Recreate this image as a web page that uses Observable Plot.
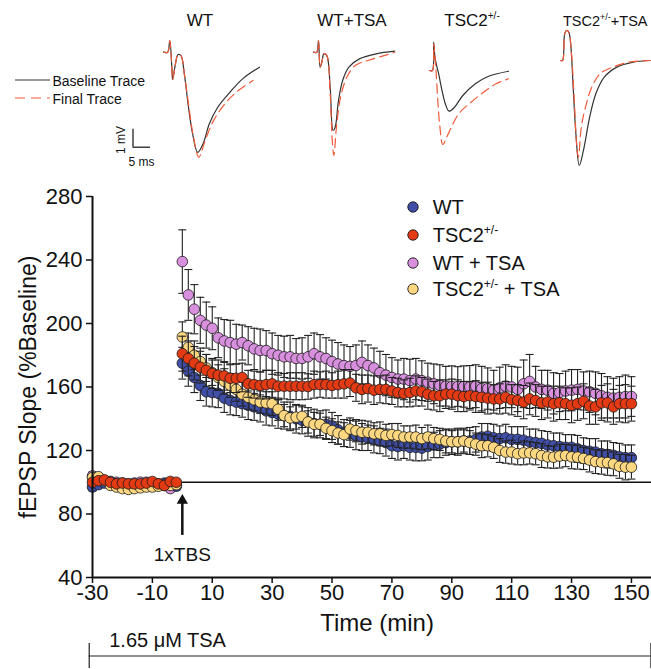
<!DOCTYPE html>
<html><head><meta charset="utf-8">
<script src="https://cdn.jsdelivr.net/npm/d3@7"></script>
<script src="https://cdn.jsdelivr.net/npm/@observablehq/plot@0.6"></script>
<style>
html,body{margin:0;padding:0;background:#fff;}
#page{position:relative;width:651px;height:669px;overflow:hidden;font-family:"Liberation Sans",Arial,sans-serif;color:#111;}
.abs{position:absolute;white-space:pre;line-height:normal;}
.abs span.t{display:inline-block;}
svg{display:block;}
</style></head><body><div id="page"></div>
<script>
// ---------------- DATA ----------------
const seriesNames = ["WT", "TSC2+/-", "WT + TSA", "TSC2+/- + TSA"];
const seriesColors = ["#3f4ea6", "#e33a14", "#d78fde", "#fdd880"];
const drawOrder = [2, 0, 3, 1];

const baselineTimes = [-30,-28,-26,-24,-22,-20,-18,-16,-14,-12,-10,-8,-6,-4,-2];
const postTimes = d3.range(0, 151, 2);
const xTicks = [-30,-10,10,30,50,70,90,110,130,150];
const yTicks = [40,80,120,160,200,240,280];
const xMax = 156.7;

// WT
const wtBase = [97,98.5,99.5,100,99,98.5,98.5,98,98.5,98.5,99,98.5,99,98.5,97.5];
const wtPost = [
 175,170,166,161,157,156.5,156,153,151.5,150.5,
 149.5,148.5,147.5,146.5,145,144,143,142,141.5,140,
 139,138,137,136.5,136.5,135.5,133,131,130.5,129.5,
 128.5,128,127,126,125,123,122.5,123,122,122,
 121.5,122.5,123.5,124,125,125.5,125.5,126,126,127,
 128.5,129,128,127.5,128,127,127,126.5,125.5,125,
 124.5,123.5,123,122.5,122,122,121,120,119.5,119,
 118,117.5,117,116,115.5,115.5];
const wtBaseSem = [2.5,2,2,2,2,2,2,2,2,2,2,2,2,2,2.5];
const wtPostSem = [
 10,9.5,9.5,9.5,9,9,9,9,9,8.5,
 8.5,9,8.5,8.5,9,8.5,9,8.5,9,9,
 8.5,9,9,8.5,9,8.5,9,8.5,8.5,9,
 8.5,8,8.5,8,8.5,8,8.5,8,8,8.5,
 8,8.5,8,8.5,8,8,8.5,8,8.5,8,
 8.5,8,8.5,8,8.5,8,8,8.5,8,8.5,
 8,8.5,8,8.5,8,8,8.5,8,8,8.5,
 8,8.5,8,8.5,8,8];

// TSC2+/-
const tscBase = [100,101,101.5,100,99,99.5,99,99,99,99.5,100.5,99,98,100.5,100];
const tscPost = [
 181,178,175,172.5,170.5,168.5,167.5,167,165.5,165.5,
 166,162,161.5,161,161.5,162,160.5,160.5,160.5,160.5,
 160.5,160.3,161.5,161.5,161.5,161,161.5,162,162.5,159.5,
 158.5,159,158,158.5,158.5,157.5,156.5,156,156.5,157.5,
 157,155.5,154.5,154.5,155.5,155.5,154.5,154,154.5,154,
 153.5,153,152.5,152.5,153.5,152,151.5,150.5,152.5,151.5,
 150,150.5,149.5,150,149.5,148.5,149.5,151,148,147.5,
 150,150,147.5,149.5,149.5,149.5];
const tscBaseSem = [2,2,2,2,2,2,2,2,2,2,2,2,2,2,2];
const tscPostSem = [
 11,11,10.5,10,10,9.5,9.5,9,9,9,
 9,8.5,8.5,8.5,9,8.5,8.5,8,8.5,8.5,
 8.5,8,8.5,8,8.5,8,8.5,9,8.5,8.5,
 9,8.5,9,8.5,9,8.5,9,8.5,9,9.5,
 9,9.5,9,10,9,9.5,10,9.5,9,10,
 9.5,10,9,9.5,10,9.5,10,10.5,10,10,
 10.5,10,11,10.5,10,11,10.5,11,11.5,11,
 11,12,11,11.5,12,11];

// WT + TSA
const wtTsaBase = [104,103,101,100.5,100,99.5,99,99.5,100,100,99.5,99,99.5,96,98];
const wtTsaPost = [
 239,218,209,202,199,197,191,189,188,187,
 188,186,184,183,183,181,180,179,179,178,
 178,179,181,179,178,176,174.5,173.5,173,173.5,
 175.5,173.5,172,169,167.5,166,165,165,164,165,
 164,163,162,161,160.5,160.3,160.3,160.3,160,160.5,
 159,159,158,159.5,160.5,160,158.5,162,163.5,160,
 158.5,158,156,156.5,157.5,158,158.5,157.5,157,156,
 154.5,153.5,153,153.5,154,154];
const wtTsaBaseSem = [2.5,2,2,2,2,2,2,2,2,2,2,2,2,2,2.5];
const wtTsaPostSem = [
 20,16,15.5,14.5,14.5,13.5,12.5,13.5,14,12.5,
 11,12,13,13.5,12.5,13,12.5,13,13.5,12.5,
 13,13.5,13,14,13,13.5,13.5,13,12.5,13,
 13.5,13,12.5,13.5,13,12.5,12,13,13.5,13,
 12.5,12,12.5,13,12.5,13,12.5,13,13.5,13.5,
 14,13,12.5,13,13.5,13,14,15,17,13,
 12,12.5,13,12,12.5,13,12.5,12,13,13.5,
 14,13,12.5,13,13.5,12.5];

// TSC2+/- + TSA
const tscTsaBase = [103,103.5,101,98,97,96,95.5,96,96.5,97,97,97.5,98,98,98.5];
const tscTsaPost = [
 191.5,185,180,176,172,169,166,163.5,161,158.5,
 155.5,153.5,152,150.5,150,149.5,146,142,140.5,141,
 141.5,138,136.5,136.5,134,132.5,131,130,133.5,132.5,
 131.5,131.5,130.5,130.5,129.5,130,129.5,128.5,128.5,128.5,
 127.5,128.5,127.5,127,126,125.5,125.5,126,125,124,
 123,123,122,120,119,119,118,118.5,118.5,118,
 116.8,116,115.8,116.5,116.8,116,115.8,115,114,113,
 112.6,112.4,111.6,110,109.5,109.5];
const tscTsaBaseSem = [2,2,2,2,2,2,2,2,2,2,2,2,2,2,2];
const tscTsaPostSem = [
 9.5,9,9,8.5,8.5,8,8,8,7.5,7.5,
 7.5,7.5,7,7,7,7.5,7,7,7,7.5,
 7,7,7.5,7,7,7.5,7,7.5,7,7,
 7.5,7,7,7.5,7,7,7.5,7,7,7.5,
 7,7.5,7,7,7.5,7,7.5,7,7.5,7,
 7.5,7,7,7.5,7,7.5,7,7.5,7,7,
 7.5,7,7,7.5,7,7.5,7.5,7,7.5,7.5,
 7.5,8,7.5,7.5,8,7.5];

const baseValues = [wtBase, tscBase, wtTsaBase, tscTsaBase];
const postValues = [wtPost, tscPost, wtTsaPost, tscTsaPost];
const baseSems = [wtBaseSem, tscBaseSem, wtTsaBaseSem, tscTsaBaseSem];
const postSems = [wtPostSem, tscPostSem, wtTsaPostSem, tscTsaPostSem];

// annotations
const tbsMarker = [{t: 0, from: 66.5, to: 88.5, label: "1xTBS", labelY: 54}];
const baselineRef = [{y: 100, from: 0, to: xMax}];
const treatment = [{label: "1.65 μM TSA", start: -31.1, end: 156.5}];
const yLabel = "fEPSP Slope (%Baseline)";
const xLabel = "Time (min)";

// example traces [ms, mV]
const traceTitles = ["WT", "WT+TSA", "TSC2+/-", "TSC2+/-+TSA"];
const traceBaseline = [
 [[0,0],[1.19,0],[1.79,0.65],[2.38,-0.83],[2.62,-1.52],[3.33,-0.74],[4.17,-0.13],[5.0,-0.19],[5.95,-1.2],[7.14,-3.06],[8.33,-4.54],[9.76,-5.56],[11.3,-5.09],[13.1,-3.98],[15.5,-3.06],[19.0,-2.22],[22.6,-1.48],[27.4,-0.83]],
 [[0,0],[0.95,0],[1.43,0.65],[1.9,-0.83],[2.38,-0.56],[2.98,-0.09],[3.81,-0.19],[4.76,-1.94],[5.6,-4.35],[6.19,-4.17],[7.14,-2.69],[8.33,-1.57],[10.1,-0.83],[13.1,-0.37],[17.9,-0.09],[23.2,0.06]],
 [[0,0],[0.83,0],[1.19,1.57],[1.55,0.74],[2.02,0.28],[2.62,-0.19],[3.57,-1.11],[4.52,-1.85],[5.6,-2.26],[7.14,-2.04],[9.52,-1.39],[13.1,-0.74],[16.7,-0.33],[22.6,-0.04]],
 [[0,0],[0.6,0],[1.19,1.48],[1.79,1.67],[2.38,1.57],[2.98,0.74],[3.57,-1.3],[4.4,-4.07],[5.36,-5.83],[6.55,-5.0],[8.33,-3.15],[10.1,-1.85],[12.5,-0.93],[16.1,-0.37],[20.8,-0.09],[25.6,0]]
];
const traceFinal = [
 [[0,0],[1.19,0],[1.79,0.65],[2.38,-0.83],[2.62,-1.52],[3.33,-0.74],[4.17,-0.13],[5.0,-0.19],[5.95,-1.2],[7.4,-3.24],[8.57,-4.72],[10.1,-5.83],[11.9,-4.91],[14.3,-3.8],[17.9,-2.78],[21.4,-2.13],[25.6,-1.57]],
 [[0,0],[0.95,0],[1.43,0.65],[1.9,-0.83],[2.38,-0.56],[2.98,-0.09],[3.81,-0.19],[4.76,-2.31],[5.36,-4.91],[5.83,-5.74],[6.55,-4.17],[7.74,-2.5],[9.52,-1.39],[11.9,-0.74],[15.5,-0.46],[20.2,-0.19],[23.2,0]],
 [[0,0],[0.83,0],[1.19,1.48],[1.79,0.19],[2.38,-1.67],[2.98,-3.15],[3.81,-4.11],[5.36,-3.52],[8.33,-2.41],[11.9,-1.76],[15.5,-1.2],[19.0,-0.74],[22.6,-0.46]],
 [[0,0],[0.6,0],[1.19,1.48],[1.79,1.67],[2.38,1.57],[3.21,0.19],[3.93,-2.22],[4.76,-5.0],[5.12,-5.37],[5.95,-3.7],[7.14,-2.59],[8.93,-1.48],[11.3,-0.74],[14.9,-0.37],[19.6,-0.09],[25.6,0]]
];
const traceLegend = [{label: "Baseline Trace", color: "#333", dash: null}, {label: "Final Trace", color: "#f05a3a", dash: "10,6"}];
const scaleBar = [{ms: 5, mV: 1}];
const scaleLabels = ["1 mV", "5 ms"];

// ---------------- LAYOUT HELPERS ----------------
const page = document.getElementById("page");
const FONT = '"Liberation Sans", Arial, sans-serif';
function place(el, left, top) {
  const d = document.createElement("div");
  d.className = "abs"; d.style.left = left + "px"; d.style.top = top + "px";
  d.appendChild(el); page.appendChild(d); return d;
}
function esc(s) { return s.replace(/&/g,"&amp;").replace(/</g,"&lt;"); }
function rich(name, supPx) {
  return name.split("+/-").map(esc).join(`<span style="font-size:${supPx}px;position:relative;top:-0.65em;">+/-</span>`);
}
function htmlText(html, left, top, size, extra) {
  const s = document.createElement("span");
  s.className = "t";
  s.innerHTML = html; s.style.fontSize = size + "px"; s.style.fontFamily = FONT;
  if (extra) Object.assign(s.style, extra);
  return place(s, left, top);
}

// ---------------- MAIN CHART ----------------
const rows = [];
seriesNames.forEach((name, i) => {
  const times = baselineTimes.concat(postTimes);
  const vals = baseValues[i].concat(postValues[i]);
  const sems = baseSems[i].concat(postSems[i]);
  times.forEach((t, j) => rows.push({series: name, idx: i, t, v: vals[j], lo: vals[j] - sems[j], hi: vals[j] + sems[j]}));
});
const capSymbol = {draw(ctx, size) { const w = 4; ctx.moveTo(-w, 0); ctx.lineTo(w, 0); }};

const seriesMarks = drawOrder.flatMap(i => {
  const d = rows.filter(r => r.idx === i);
  return [
    Plot.ruleX(d, {x: "t", y1: "lo", y2: "hi", stroke: "#222", strokeWidth: 1.1}),
    Plot.dot(d, {x: "t", y: "hi", symbol: capSymbol, r: 4, fill: "none", stroke: "#222", strokeWidth: 1.1}),
    Plot.dot(d, {x: "t", y: "lo", symbol: capSymbol, r: 4, fill: "none", stroke: "#222", strokeWidth: 1.1}),
    Plot.dot(d, {x: "t", y: "v", r: 5.3, fill: seriesColors[i], stroke: "#1a1a1a", strokeWidth: 0.8})
  ];
});

const main = Plot.plot({
  width: 651, height: 462, marginTop: 26, marginBottom: 55, marginLeft: 92, marginRight: 0,
  style: {fontFamily: FONT, fontSize: "22px", color: "#111", background: "transparent", overflow: "visible"},
  x: {domain: [-30, xMax]},
  y: {domain: [yTicks[0], yTicks[yTicks.length - 1]]},
  marks: [
    Plot.ruleY(baselineRef, {y: "y", x1: "from", x2: "to", stroke: "#111", strokeWidth: 1.5}),
    ...seriesMarks,
    Plot.ruleX(tbsMarker, {x: "t", y1: "from", y2: "to", stroke: "#111", strokeWidth: 2.5}),
    Plot.dot(tbsMarker, {x: "t", y: "to", symbol: "triangle", r: 4.2, fill: "#111", stroke: "none"}),
    Plot.text(tbsMarker, {x: "t", y: "labelY", text: "label", fontSize: 19, lineAnchor: "middle", fill: "#111"}),
    Plot.axisX(xTicks, {tickSize: 6, tickPadding: 1, tickFormat: d => String(d), fontSize: 22, strokeWidth: 1.5, label: null}),
    Plot.axisY(yTicks, {tickSize: 6, tickPadding: 4, tickFormat: d => String(d), fontSize: 22, strokeWidth: 1.5, label: null}),
    Plot.ruleX([{t: -30, a: yTicks[0], b: yTicks[yTicks.length - 1]}], {x: "t", y1: "a", y2: "b", stroke: "#111", strokeWidth: 2}),
    Plot.ruleY([{v: yTicks[0], a: -30, b: xMax}], {y: "v", x1: "a", x2: "b", stroke: "#111", strokeWidth: 2}),
    Plot.text([yLabel], {frameAnchor: "left", rotate: -90, dx: -64, textAnchor: "middle", lineAnchor: "middle", fontSize: 23, text: d => d, fill: "#111"}),
    Plot.text([xLabel], {frameAnchor: "bottom", dy: 46, dx: 5, textAnchor: "middle", lineAnchor: "middle", fontSize: 24, text: d => d, fill: "#111"})
  ]
});
place(main, 0, 170);

// legend
const legendY = [207, 235, 262.5, 288.5];
seriesNames.forEach((name, i) => {
  const ns = "http://www.w3.org/2000/svg";
  const svg = document.createElementNS(ns, "svg");
  svg.setAttribute("width", 14); svg.setAttribute("height", 14);
  const c = document.createElementNS(ns, "circle");
  c.setAttribute("cx", 7); c.setAttribute("cy", 7); c.setAttribute("r", 5.2);
  c.setAttribute("fill", seriesColors[i]); c.setAttribute("stroke", "#1a1a1a"); c.setAttribute("stroke-width", 0.9);
  svg.appendChild(c);
  place(svg, 412.7 - 7, legendY[i] - 7);
  htmlText(rich(name, 12), 432.7, legendY[i] - 11, 20);
});

// treatment strip
const strip = Plot.plot({
  width: 651, height: 37, marginTop: 11, marginBottom: 1, marginLeft: 92, marginRight: 0,
  style: {fontFamily: FONT, color: "#111", background: "transparent", overflow: "visible"},
  x: {domain: [-30, xMax], axis: null},
  y: {domain: [-1, 1], axis: null},
  marks: [
    Plot.ruleY(treatment, {y: () => 0, x1: "start", x2: "end", stroke: "#222", strokeWidth: 1.2}),
    Plot.ruleX(treatment.flatMap(d => [d.start, d.end]), {stroke: "#222", strokeWidth: 1.2}),
    Plot.text(treatment, {x: "start", y: () => 1, text: "label", textAnchor: "start", lineAnchor: "middle", dx: 20, dy: -3, fontSize: 20, fill: "#111"})
  ]
});
place(strip, 0, 632);

// ---------------- TRACES ----------------
const PX_MS = 3.5, PX_MV = 18, PT = 25, PH = 145;
const traceOrigins = [[162.5, 51.7], [312.5, 51.7], [429.2, 70], [560.4, 60]];
traceTitles.forEach((title, k) => {
  const [ox, oy] = traceOrigins[k];
  const W = Math.min(115, 651 - ox);
  const p = Plot.plot({
    width: W, height: PH, margin: 0,
    style: {background: "transparent", overflow: "visible"},
    x: {domain: [0, W / PX_MS], axis: null},
    y: {domain: [-(PT + PH - oy) / PX_MV, (oy - PT) / PX_MV], axis: null},
    marks: [
      Plot.line(traceBaseline[k], {x: d => d[0], y: d => d[1], stroke: "#333", strokeWidth: 1.2, curve: "catmull-rom"}),
      Plot.line(traceFinal[k], {x: d => d[0], y: d => d[1], stroke: "#f05a3a", strokeWidth: 1.2, strokeDasharray: "9,5", curve: "catmull-rom"})
    ]
  });
  place(p, ox, PT);
});
const titlePos = [[200, 17], [352, 17], [472, 17], [563, 14.5]];
traceTitles.forEach((t, k) => {
  const [cx, size] = titlePos[k];
  if (k === 3) htmlText(rich(t, 9), cx, 20 - 8.3, size);
  else htmlText(rich(t, 10), cx, 20 - 9.3, size, {transform: "translateX(-50%)"});
});
// trace legend
const traceLegendY = [80, 98];
traceLegend.forEach((d, k) => {
  const ns = "http://www.w3.org/2000/svg";
  const svg = document.createElementNS(ns, "svg");
  svg.setAttribute("width", 36); svg.setAttribute("height", 4);
  const l = document.createElementNS(ns, "line");
  l.setAttribute("x1", 0); l.setAttribute("x2", 35); l.setAttribute("y1", 2); l.setAttribute("y2", 2);
  l.setAttribute("stroke", d.color); l.setAttribute("stroke-width", 1.1);
  if (d.dash) l.setAttribute("stroke-dasharray", d.dash);
  svg.appendChild(l);
  place(svg, 14.5, traceLegendY[k] - 2);
  htmlText(esc(d.label), 52.5, traceLegendY[k] - 7.8, 14);
});
// scale bar
const sb = Plot.plot({
  width: 25, height: 25, margin: 0,
  style: {background: "transparent", overflow: "visible"},
  x: {domain: [-(132.5 - 130) / PX_MS, (155 - 132.5) / PX_MS], axis: null},
  y: {domain: [-(150 - 146.7) / PX_MV, (146.7 - 125) / PX_MV], axis: null},
  marks: [
    Plot.ruleX(scaleBar, {x: () => 0, y1: () => 0, y2: "mV", stroke: "#222", strokeWidth: 1.3}),
    Plot.ruleY(scaleBar, {y: () => 0, x1: () => 0, x2: "ms", stroke: "#222", strokeWidth: 1.3})
  ]
});
place(sb, 130, 125);
htmlText(esc(scaleLabels[0]), 121, 137, 12, {transform: "translate(-50%,-50%) rotate(-90deg)"});
htmlText(esc(scaleLabels[1]), 141.5, 159, 12, {transform: "translate(-50%,-50%)"});
</script></body></html>
